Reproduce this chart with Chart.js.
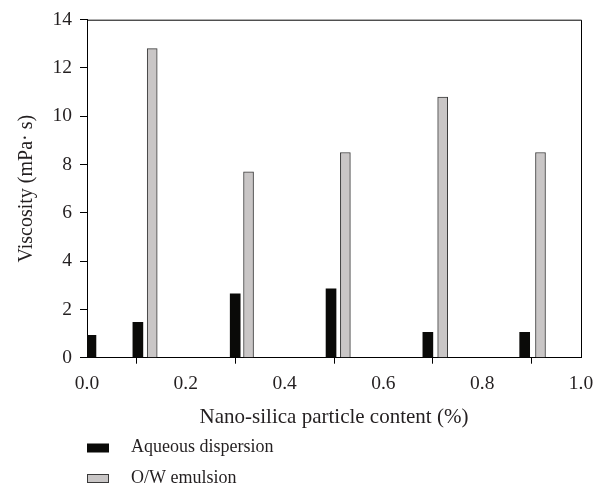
<!DOCTYPE html>
<html>
<head>
<meta charset="utf-8">
<script src="https://cdn.jsdelivr.net/npm/chart.js@4/dist/chart.umd.min.js"></script>
<style>
  html, body { margin: 0; padding: 0; background: #fff; }
  #wrap { width: 605px; height: 487px; }
</style>
</head>
<body>
<div id="wrap"><canvas id="viscChart" width="605" height="487"></canvas></div>
<script>
// valeurs
const aqueousX = [0.008, 0.103, 0.300, 0.494, 0.690, 0.886];
const aqueousY = [0.93, 1.46, 2.65, 2.85, 1.05, 1.05];
const emulsionX = [0.132, 0.327, 0.523, 0.720, 0.918];
const emulsionY = [12.8, 7.7, 8.5, 10.8, 8.5];
const seriesNames = ['Aqueous dispersion', 'O/W emulsion'];
const xTitle = 'Nano-silica particle content (%)';
const yTitle = 'Viscosity (mPa\u00b7 s)';

const font = 'Liberation Serif';
const textColor = '#231f20';
const blackFill = '#0a0a08';
const grayFill = '#c9c6c6';
const grayBorder = '#3a3a3a';

function toPoints(xs, ys) {
    let pts = [];
    for (let i = 0; i < xs.length; i++) {
        pts.push({x: xs[i], y: ys[i]});
    }
    return pts;
}

// cadre, titres des axes et légende dessinés à la main
const extras = {
    id: 'extras',
    afterDraw(chart) {
        const ctx = chart.ctx;
        const area = chart.chartArea;
        const midX = (area.left + area.right) / 2;
        const midY = (area.top + area.bottom) / 2;
        ctx.save();
        ctx.strokeStyle = '#000';
        ctx.lineWidth = 1;
        ctx.beginPath();
        ctx.moveTo(area.left, area.top + 0.5);
        ctx.lineTo(area.right + 0.5, area.top + 0.5);
        ctx.lineTo(area.right + 0.5, area.bottom);
        ctx.stroke();

        ctx.fillStyle = textColor;
        ctx.font = '21px "' + font + '"';
        ctx.textAlign = 'center';
        ctx.textBaseline = 'alphabetic';
        ctx.fillText(xTitle, midX, 423);

        ctx.save();
        ctx.font = '20px "' + font + '"';
        ctx.translate(27, midY);
        ctx.rotate(-Math.PI / 2);
        ctx.textBaseline = 'middle';
        ctx.fillText(yTitle, 0, 0);
        ctx.restore();

        // légende
        const ds = chart.data.datasets;
        const rows = [448, 478.5];
        ctx.font = '18px "' + font + '"';
        ctx.textAlign = 'left';
        ctx.textBaseline = 'alphabetic';
        for (let i = 0; i < ds.length; i++) {
            let y = rows[i];
            ctx.fillStyle = ds[i].backgroundColor;
            ctx.fillRect(87, y - 4.5, 22, 9);
            if (ds[i].borderWidth > 0) {
                ctx.strokeStyle = ds[i].borderColor;
                ctx.strokeRect(87.5, y - 4, 21, 8);
            }
            ctx.fillStyle = textColor;
            ctx.fillText(ds[i].label, 131, y + 4);
        }
        ctx.restore();
    }
};

const config = {
    type: 'bar',
    data: {
        datasets: [{
            label: seriesNames[0],
            data: toPoints(aqueousX, aqueousY),
            backgroundColor: blackFill,
            borderWidth: 0,
            barThickness: 10,
            grouped: false
        }, {
            label: seriesNames[1],
            data: toPoints(emulsionX, emulsionY),
            backgroundColor: grayFill,
            borderColor: grayBorder,
            borderWidth: 1,
            barThickness: 10,
            grouped: false
        }]
    },
    options: {
        responsive: false,
        animation: false,
        layout: { padding: { left: 0, right: 24, top: 15, bottom: 0 } },
        plugins: {
            legend: { display: false },
            tooltip: { enabled: false }
        },
        scales: {
            x: {
                type: 'linear',
                min: 0,
                max: 1,
                offset: false,
                afterFit: (s) => { s.height = 129.3; },
                border: { display: true, color: '#000', width: 1 },
                grid: { drawOnChartArea: false, drawTicks: true, tickLength: 6, color: '#000' },
                ticks: {
                    stepSize: 0.2,
                    padding: 8,
                    color: textColor,
                    font: { family: font, size: 19.5 },
                    callback: (v) => v.toFixed(1)
                }
            },
            y: {
                min: 0,
                max: 14,
                afterFit: (s) => { s.width = 87; },
                border: { display: true, color: '#000', width: 1 },
                grid: { drawOnChartArea: false, drawTicks: true, tickLength: 7, color: '#000' },
                ticks: {
                    stepSize: 2,
                    padding: 8,
                    color: textColor,
                    font: { family: font, size: 19.5 }
                }
            }
        }
    },
    plugins: [extras]
};

new Chart(document.getElementById('viscChart'), config);
</script>
</body>
</html>
